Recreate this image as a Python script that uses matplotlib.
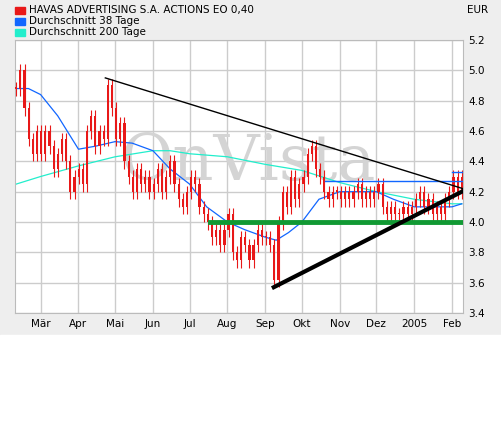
import numpy as np
import pandas as pd
import matplotlib
matplotlib.use("Agg")
import matplotlib.pyplot as plt
import matplotlib.dates as mdates

closes = [4.88, 5.0, 4.75, 4.55, 4.45, 4.6,
          4.45, 4.6, 4.5, 4.35, 4.45, 4.55, 4.4, 4.2, 4.3,
          4.35, 4.25, 4.6, 4.7, 4.5, 4.6, 4.55, 4.9, 4.75,
          4.55, 4.65, 4.4, 4.3, 4.2, 4.35, 4.25, 4.3, 4.2,
          4.25, 4.35, 4.2, 4.3, 4.4, 4.25, 4.15, 4.1, 4.2,
          4.3, 4.25, 4.1, 4.05, 4.0, 3.9, 3.95, 3.85, 3.95,
          4.05, 3.8, 3.75, 3.9, 3.85, 3.75, 3.85, 3.95, 3.9,
          3.9, 3.85, 3.62, 4.0, 4.2, 4.1, 4.3, 4.15, 4.25,
          4.3, 4.45, 4.5, 4.35, 4.3, 4.2, 4.15, 4.2, 4.2,
          4.15, 4.2, 4.15, 4.2, 4.25, 4.15, 4.2, 4.15, 4.2,
          4.25, 4.1, 4.05, 4.1, 4.05, 4.05, 4.1, 4.05, 4.1,
          4.15, 4.2, 4.1, 4.15, 4.05, 4.1, 4.05, 4.15, 4.2,
          4.3, 4.2, 4.3]
price_dates = pd.date_range("2004-02-10", "2005-02-09", periods=len(closes))

ma38_dates = pd.to_datetime(["2004-02-10", "2004-02-20", "2004-03-01", "2004-03-15", "2004-04-01",
                             "2004-04-15", "2004-05-01", "2004-05-15", "2004-06-01", "2004-06-15",
                             "2004-07-01", "2004-07-15", "2004-08-01", "2004-08-15", "2004-09-01",
                             "2004-09-10", "2004-09-20", "2004-10-01", "2004-10-15", "2004-11-01",
                             "2004-11-15", "2004-12-01", "2004-12-15", "2005-01-01", "2005-01-15",
                             "2005-02-01", "2005-02-09"])
ma38 = [4.88, 4.88, 4.84, 4.7, 4.48, 4.5, 4.53, 4.52, 4.47, 4.35, 4.25, 4.1, 4.0, 3.95, 3.9,
        3.88, 3.93, 4.0, 4.15, 4.2, 4.2, 4.2, 4.15, 4.1, 4.1, 4.1, 4.12]
ma200_dates = pd.to_datetime(["2004-02-10", "2004-03-01", "2004-04-01", "2004-05-01", "2004-06-01",
                              "2004-06-15", "2004-07-01", "2004-08-01", "2004-09-01", "2004-10-01",
                              "2004-11-01", "2004-12-01", "2005-01-01", "2005-02-01", "2005-02-09"])
ma200 = [4.25, 4.3, 4.37, 4.43, 4.47, 4.47, 4.45, 4.43, 4.38, 4.34, 4.26, 4.2, 4.15, 4.12, 4.12]

down_trend = (["2004-04-23", "2005-02-14"], [4.95, 4.21])
up_trend = (["2004-09-08", "2005-02-14"], [3.57, 4.22])
support = (["2004-07-18", "2005-02-14"], [4.0, 4.0])
resist1 = (["2004-10-20", "2005-02-14"], [4.27, 4.27])
resist2 = (["2005-02-01", "2005-02-14"], [4.33, 4.33])

yticks = [3.4, 3.6, 3.8, 4.0, 4.2, 4.4, 4.6, 4.8, 5.0, 5.2]
month_ticks = pd.to_datetime(["2004-03-01", "2004-04-01", "2004-05-01", "2004-06-01", "2004-07-01",
                              "2004-08-01", "2004-09-01", "2004-10-01", "2004-11-01", "2004-12-01",
                              "2005-01-01", "2005-02-01"])
month_labels = ["Mär", "Apr", "Mai", "Jun", "Jul", "Aug", "Sep", "Okt", "Nov", "Dez", "2005", "Feb"]

W, H = 501, 433
fig = plt.figure(figsize=(W/100, H/100), dpi=100, facecolor="#eeeeee")
fig.patches.append(plt.Rectangle((0, 0), 1, 1 - 335/H, transform=fig.transFigure, color="white", zorder=0))
ax = fig.add_axes([15/W, 1 - 313/H, 448/W, 273/H])
ax.set_facecolor("white")

ax.text(0.52, 0.55, "OnVista", transform=ax.transAxes, fontsize=46, color="#d4d4d4",
        family="DejaVu Serif", ha="center", va="center", zorder=1)

ax.plot(ma200_dates, ma200, color="#22eecc", lw=0.9, zorder=2)
ax.plot(ma38_dates, ma38, color="#1166ff", lw=0.9, zorder=2)

xd = mdates.date2num(price_dates)
prev = closes[0]
for x, c in zip(xd, closes):
    lo, hi = min(prev, c), max(prev, c)
    ax.vlines(x, lo - 0.05, hi + 0.04, color="#e81818", lw=0.8, zorder=3)
    ax.bar(x, max(hi - lo, 0.01), bottom=lo, width=1.8, color="#e81818", zorder=3)
    prev = c

ax.plot(pd.to_datetime(support[0]), support[1], color="#119933", lw=3.5, zorder=4)
ax.plot(pd.to_datetime(resist1[0]), resist1[1], color="#1166ff", lw=1, zorder=4)
ax.plot(pd.to_datetime(resist2[0]), resist2[1], color="#1166ff", lw=1, zorder=4)
ax.plot(pd.to_datetime(down_trend[0]), down_trend[1], color="black", lw=1, zorder=5)
ax.plot(pd.to_datetime(up_trend[0]), up_trend[1], color="black", lw=3, zorder=5)

ax.set_xlim(pd.Timestamp("2004-02-09"), pd.Timestamp("2005-02-10"))
ax.set_ylim(3.4, 5.2)
ax.set_xticks(month_ticks)
ax.set_xticklabels(month_labels, fontsize=7.5)
ax.set_yticks(yticks)
ax.set_yticklabels([f"{v:.1f}" for v in yticks], fontsize=7.5)
ax.yaxis.tick_right()
ax.tick_params(length=0, pad=4)
ax.grid(True, color="#cccccc", lw=1)
ax.set_axisbelow(True)
for s in ax.spines.values():
    s.set_color("#bbbbbb")

legend = [("HAVAS ADVERTISING S.A. ACTIONS EO 0,40", "#e81818"),
          ("Durchschnitt 38 Tage", "#1166ff"),
          ("Durchschnitt 200 Tage", "#22eecc")]
for i, (t, col) in enumerate(legend):
    y = 1 - (10 + 11 * i) / H
    fig.patches.append(plt.Rectangle((15/W, y - 4/H), 10/W, 7/H, transform=fig.transFigure, color=col))
    fig.text(29/W, y, t, fontsize=7.5, va="center")
fig.text(488/W, 1 - 10/H, "EUR", fontsize=7.5, va="center", ha="right")

fig.savefig("out.png", dpi=100, facecolor=fig.get_facecolor())
